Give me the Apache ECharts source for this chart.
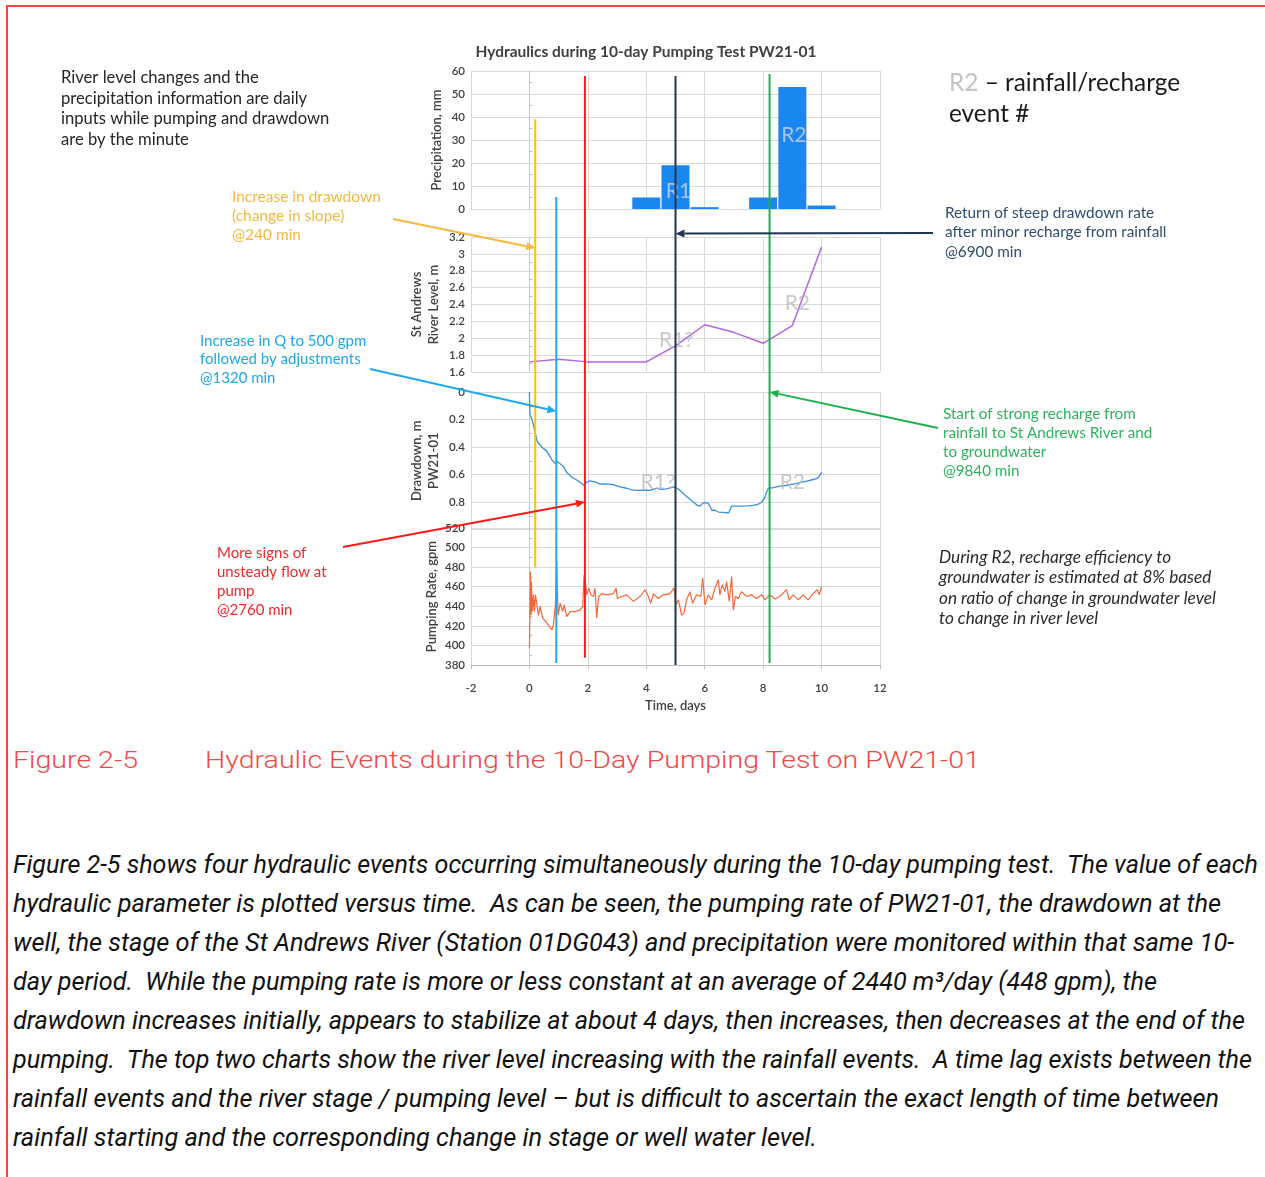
<!DOCTYPE html>
<html>
<head>
<meta charset="utf-8">
<script src="https://cdn.jsdelivr.net/npm/echarts@6/dist/echarts.min.js"></script>
<style>
  html, body { margin: 0; padding: 0; background: #fff; }
  #page { position: relative; width: 1265px; height: 1177px; overflow: hidden; }
  #chart { position: absolute; left: 0; top: 0; width: 1265px; height: 730px; }
  .frame-left { position: absolute; left: 6px; top: 5px; width: 2px; height: 1172px; background: #f0473c; }
  .frame-top { position: absolute; left: 6px; top: 5px; width: 1259px; height: 2px; background: #f0473c; }
  .caption { position: absolute; top: 746px; font-family: Roboto, sans-serif; font-weight: 300; font-size: 24px; color: #f04848;
             white-space: nowrap; display: inline-block; transform-origin: left center; }
  .body { position: absolute; left: 13px; top: 845px; font-family: Roboto, sans-serif;
          font-style: italic; font-size: 26px; line-height: 39px; color: #111; }
  .body span { display: inline-block; white-space: nowrap; transform-origin: left center; }
</style>
</head>
<body>
<div id="page">
  <div id="chart"></div>
  <div class="frame-left"></div>
  <div class="frame-top"></div>
  <div class="caption fit" data-w="125" style="left:13px">Figure 2-5</div>
  <div class="caption fit" data-w="775" style="left:205px">Hydraulic Events during the 10-Day Pumping Test on PW21-01</div>
  <div class="body">
    <div><span class="fit" data-w="1245">Figure 2-5 shows four hydraulic events occurring simultaneously during the 10-day pumping test.&nbsp; The value of each</span></div>
    <div><span class="fit" data-w="1208">hydraulic parameter is plotted versus time.&nbsp; As can be seen, the pumping rate of PW21-01, the drawdown at the</span></div>
    <div><span class="fit" data-w="1221">well, the stage of the St Andrews River (Station 01DG043) and precipitation were monitored within that same 10-</span></div>
    <div><span class="fit" data-w="1144">day period.&nbsp; While the pumping rate is more or less constant at an average of 2440 m³/day (448 gpm), the</span></div>
    <div><span class="fit" data-w="1232">drawdown increases initially, appears to stabilize at about 4 days, then increases, then decreases at the end of the</span></div>
    <div><span class="fit" data-w="1239">pumping.&nbsp; The top two charts show the river level increasing with the rainfall events.&nbsp; A time lag exists between the</span></div>
    <div><span class="fit" data-w="1206">rainfall events and the river stage / pumping level – but is difficult to ascertain the exact length of time between</span></div>
    <div><span class="fit" data-w="804">rainfall starting and the corresponding change in stage or well water level.</span></div>
  </div>
</div>
<script>
// daily precipitation
const precipDay = [0, 1, 2, 3, 4, 5, 6, 7, 8, 9, 10];
const precipMm = [0, 0, 0, 0, 5, 19, 0.8, 0, 5, 53, 1.5];

// daily river stage
const riverDay = [0, 1, 2, 3, 4, 5, 6, 7, 8, 9, 10];
const riverM = [1.72, 1.75, 1.72, 1.72, 1.72, 1.91, 2.16, 2.07, 1.94, 2.15, 3.08];

// drawdown at PW21-01
const ddDay = [0, 0.005, 0.02, 0.11, 0.19, 0.27, 0.42, 0.59, 0.76, 0.88, 0.95, 0.99, 1.16, 1.28, 1.45, 1.62, 1.79, 1.87,
  1.96, 2.08, 2.25, 2.42, 2.6, 2.87, 3.1, 3.33, 3.5, 3.67, 3.9, 4.13, 4.36, 4.5, 4.7, 4.93, 5.05, 5.15, 5.38, 5.61,
  5.75, 5.84, 5.93, 6.01, 6.12, 6.2, 6.24, 6.35, 6.47, 6.65, 6.81, 6.86, 6.92, 7.05, 7.21, 7.45, 7.66, 7.85, 7.95,
  8.05, 8.12, 8.18, 8.23, 8.35, 8.46, 8.6, 8.8, 8.95, 9.14, 9.3, 9.49, 9.65, 9.83, 9.92, 10.0];
const ddM = [0, 0.08, 0.166, 0.215, 0.29, 0.36, 0.40, 0.43, 0.49, 0.52, 0.505, 0.51, 0.54, 0.585, 0.62, 0.64, 0.666, 0.68,
  0.655, 0.647, 0.653, 0.67, 0.668, 0.673, 0.69, 0.70, 0.712, 0.715, 0.713, 0.715, 0.70, 0.708, 0.705, 0.69, 0.70, 0.715, 0.76, 0.80,
  0.825, 0.83, 0.81, 0.805, 0.81, 0.84, 0.86, 0.86, 0.873, 0.875, 0.88, 0.86, 0.83, 0.83, 0.83, 0.828, 0.824, 0.815, 0.80,
  0.77, 0.727, 0.70, 0.69, 0.695, 0.69, 0.683, 0.68, 0.672, 0.666, 0.655, 0.649, 0.64, 0.63, 0.615, 0.585];

// pumping rate
const pumpDay = [0, 0.011, 0.034, 0.057, 0.068, 0.10, 0.137, 0.17, 0.205, 0.25, 0.31, 0.365, 0.456, 0.593, 0.764, 0.82,
  0.889, 0.935, 0.98, 1.05, 1.14, 1.186, 1.277, 1.39, 1.56, 1.733, 1.824, 1.87, 1.916, 1.96, 2.03, 2.1, 2.19, 2.246,
  2.303, 2.37, 2.474, 2.645, 2.873, 2.965, 3.01, 3.16, 3.33, 3.56, 3.786, 3.957, 4.07, 4.15, 4.24, 4.41, 4.584, 4.81,
  4.95, 5.017, 5.097, 5.21, 5.29, 5.38, 5.496, 5.587, 5.72, 5.87, 5.93, 6.01, 6.12, 6.24, 6.35, 6.465, 6.52, 6.6,
  6.69, 6.75, 6.84, 6.92, 6.98, 7.05, 7.15, 7.26, 7.43, 7.6, 7.77, 7.95, 8.06, 8.23, 8.4, 8.57, 8.8, 8.89, 9.03,
  9.2, 9.37, 9.54, 9.71, 9.85, 9.92, 10.0];
const pumpGpm = [397, 421, 475.6, 431, 465, 434.6, 451.7, 434.6, 452, 443, 431, 440, 428, 423, 416, 421,
  441, 486, 431, 443, 434.6, 441.5, 429.5, 434.6, 434.6, 436, 440, 472, 465, 451.7, 458.5, 451.7, 450, 458.5,
  428, 450, 453, 451.7, 453, 458.5, 448, 450, 451.7, 445, 450, 457, 450, 443, 453, 448, 451.7, 453,
  458.5, 441.5, 446.6, 431, 433, 446.6, 455, 443, 451.7, 450, 468.8, 441.5, 451.7, 446.6, 458.5, 467, 451.7, 462,
  455, 465, 445, 470.5, 436, 450, 448, 455, 450, 451.7, 448, 451.7, 446.6, 451.7, 447.5, 450, 457, 446.6, 451.7,
  446.6, 451.7, 446.6, 453, 457, 451.7, 460];

// event markers: time (days), top end (mm, precip panel), bottom end (gpm, pump panel)
const eventDay = [0.2, 0.92, 1.9, 5.0, 8.22];
const eventTopMm = [39, 5.2, 57.8, 57.8, 58.7];
const eventBottomGpm = [480, 382, 387.5, 380, 382];
const eventColors = ['#ffc000', '#1ea9ee', '#ff1a1a', '#1f3553', '#1fb04e'];

// R labels per panel: [day, value]
const tagPrecip = [{ name: 'R1', value: [5.1, 7.8] }, { name: 'R2', value: [9.05, 32] }];
const tagRiver = [{ name: 'R1?', value: [5.03, 1.98] }, { name: 'R2', value: [9.17, 2.42] }];
const tagDd = [{ name: 'R1?', value: [4.4, 0.655] }, { name: 'R2', value: [9.0, 0.655] }];

const zip = (a, b) => a.map((v, i) => [v, b[i]]);

// squeeze/stretch the page text to the widths seen in the figure
document.querySelectorAll('.fit').forEach(el => {
  const w = el.getBoundingClientRect().width;
  el.style.transform = 'scaleX(' + (+el.dataset.w / w) + ')';
});

const chart = echarts.init(document.getElementById('chart'));
const FONT = 'Lato, "Open Sans", sans-serif';
const gridColor = '#d9d9d9';
const labelStyle = { color: '#404040', fontSize: 11.5, fontFamily: FONT, fontWeight: 600 };

const grids = [
  { left: 471, width: 409, top: 71, height: 138 },
  { left: 471, width: 409, top: 237, height: 135 },
  { left: 471, width: 409, top: 392, height: 137.5 },
  { left: 471, width: 409, top: 528, height: 137 }
];

const xAxes = grids.map((g, i) => ({
  type: 'value', gridIndex: i, min: -2, max: 12, interval: 2,
  splitLine: { show: true, lineStyle: { color: gridColor } },
  axisLine: { show: i === 3, onZero: false, lineStyle: { color: '#bfbfbf' } },
  axisTick: { show: i === 3, length: 4, lineStyle: { color: '#bfbfbf' } },
  axisLabel: { show: i === 3, ...labelStyle, margin: 17 },
  name: i === 3 ? 'Time, days' : '', nameLocation: 'middle', nameGap: 34,
  nameTextStyle: { color: '#404040', fontSize: 13, fontFamily: FONT, fontWeight: 600 }
}));

function yAxis(i, o) {
  return Object.assign({
    type: 'value', gridIndex: i,
    splitLine: { show: true, lineStyle: { color: gridColor } },
    axisLine: { show: true, lineStyle: { color: '#c8c8c8' } },
    axisTick: { show: false, inside: true },
    minorTick: { show: true, splitNumber: 2, length: 3, lineStyle: { color: '#bfbfbf' } },
    axisLabel: { ...labelStyle, margin: 6 },
    nameLocation: 'middle', nameRotate: 90,
    nameTextStyle: { color: '#404040', fontSize: 13, fontFamily: FONT, fontWeight: 600, lineHeight: 17 }
  }, o);
}

const yAxes = [
  yAxis(0, { min: 0, max: 60, interval: 10, name: 'Precipitation, mm', nameGap: 26 }),
  yAxis(1, { min: 1.6, max: 3.2, interval: 0.2, name: 'St Andrews\nRiver Level, m', nameGap: 29 }),
  yAxis(2, { min: 0, max: 1, interval: 0.2, inverse: true, name: 'Drawdown, m\nPW21-01', nameGap: 29,
             axisLabel: { ...labelStyle, margin: 6, showMaxLabel: false } }),
  yAxis(3, { min: 380, max: 520, interval: 20, name: 'Pumping Rate, gpm', nameGap: 31 })
];

function tagSeries(idx, data) {
  return {
    type: 'scatter', xAxisIndex: idx, yAxisIndex: idx, data, symbolSize: 0, silent: true, z: 5,
    label: { show: true, position: 'inside', formatter: '{b}', fontSize: 21, fontFamily: FONT,
             color: idx === 0 ? '#c9d4e6' : '#bcbcbc' }
  };
}

chart.setOption({
  animation: false,
  grid: grids,
  xAxis: xAxes,
  yAxis: yAxes,
  series: [
    { type: 'bar', xAxisIndex: 0, yAxisIndex: 0, data: zip(precipDay, precipMm), barWidth: 28,
      itemStyle: { color: '#1a86f0' } },
    { type: 'line', xAxisIndex: 1, yAxisIndex: 1, data: zip(riverDay, riverM), showSymbol: false,
      lineStyle: { color: '#b366de', width: 1.5 } },
    { type: 'line', xAxisIndex: 2, yAxisIndex: 2, data: zip(ddDay, ddM), showSymbol: false,
      lineStyle: { color: '#3a8fe4', width: 1.3 } },
    { type: 'line', xAxisIndex: 3, yAxisIndex: 3, data: zip(pumpDay, pumpGpm), showSymbol: false,
      lineStyle: { color: '#f2683a', width: 1.2 } },
    tagSeries(0, tagPrecip),
    tagSeries(1, tagRiver),
    tagSeries(2, tagDd)
  ]
});

// pixel helpers through the chart's own scales
const px = (grid, pt) => chart.convertToPixel({ gridIndex: grid }, pt);

function arrow(from, to, color) {
  const ang = Math.atan2(to[1] - from[1], to[0] - from[0]);
  const L = 9, W = 4;
  const bx = to[0] - L * Math.cos(ang), by = to[1] - L * Math.sin(ang);
  const ox = -Math.sin(ang) * W, oy = Math.cos(ang) * W;
  return [
    { type: 'line', z: 60, shape: { x1: from[0], y1: from[1], x2: bx, y2: by }, style: { stroke: color, lineWidth: 2 } },
    { type: 'polygon', z: 60, shape: { points: [to, [bx + ox, by + oy], [bx - ox, by - oy]] }, style: { fill: color } }
  ];
}

function note(x, cy, lh, fs, color, text, extra) {
  return { type: 'text', x, y: cy - lh / 2, z: 60,
    style: Object.assign({ text, fill: color, fontSize: fs, fontFamily: FONT, lineHeight: lh, verticalAlign: 'top' }, extra || {}) };
}

const graphics = [];
// vertical event lines
eventDay.forEach((d, i) => {
  const top = px(0, [d, eventTopMm[i]]);
  const bot = px(3, [d, eventBottomGpm[i]]);
  graphics.push({ type: 'line', z: 40, shape: { x1: top[0], y1: top[1], x2: bot[0], y2: bot[1] },
    style: { stroke: eventColors[i], lineWidth: 2 } });
});

// arrows: tail in the margin, tip on the event line
graphics.push(...arrow([393, 219], px(1, [eventDay[0], 3.07]), '#f5b83d'));
graphics.push(...arrow([370, 369], px(2, [eventDay[1], 0.14]), '#1ea9ee'));
graphics.push(...arrow([343, 547], px(2, [eventDay[2], 0.8]), '#ff1a1a'));
graphics.push(...arrow([933, 233], px(1, [eventDay[3], 3.24]), '#1f3553'));
graphics.push(...arrow([938, 428], px(2, [eventDay[4], 0.0]), '#1fb04e'));

// titles and notes
graphics.push({ type: 'text', x: 646, y: 52, z: 60,
  style: { text: 'Hydraulics during 10-day Pumping Test PW21-01', fill: '#404040', fontSize: 15.5, fontWeight: 'bold',
           fontFamily: FONT, align: 'center', verticalAlign: 'middle' } });
graphics.push(note(61, 78, 20.5, 16.6, '#262626',
  'River level changes and the\nprecipitation information are daily\ninputs while pumping and drawdown\nare by the minute'));
graphics.push(note(232, 197, 19, 15.5, '#f5b83d', 'Increase in drawdown\n(change in slope)\n@240 min'));
graphics.push(note(200, 341, 18.5, 15, '#1ea7e4', 'Increase in Q to 500 gpm\nfollowed by adjustments\n@1320 min'));
graphics.push(note(217, 553, 19, 15, '#ee2a2a', 'More signs of\nunsteady flow at\npump\n@2760 min'));
graphics.push(note(949, 83, 31, 24.4, '#1a1a1a', '{g|R2} – rainfall/recharge\nevent #',
  { rich: { g: { fill: '#c4c4c4', fontSize: 24.4, fontFamily: FONT, lineHeight: 31 } } }));
graphics.push(note(945, 213, 19.5, 15.3, '#2f4d6e', 'Return of steep drawdown rate\nafter minor recharge from rainfall\n@6900 min'));
graphics.push(note(943, 414, 19, 15.2, '#2db35d', 'Start of strong recharge from\nrainfall to St Andrews River and\nto groundwater\n@9840 min'));
graphics.push(note(939, 557, 20.5, 17.2, '#2a2a2a',
  'During R2, recharge efficiency to\ngroundwater is estimated at 8% based\non ratio of change in groundwater level\nto change in river level', { fontStyle: 'italic' }));

chart.setOption({ graphic: graphics });
</script>
</body>
</html>
